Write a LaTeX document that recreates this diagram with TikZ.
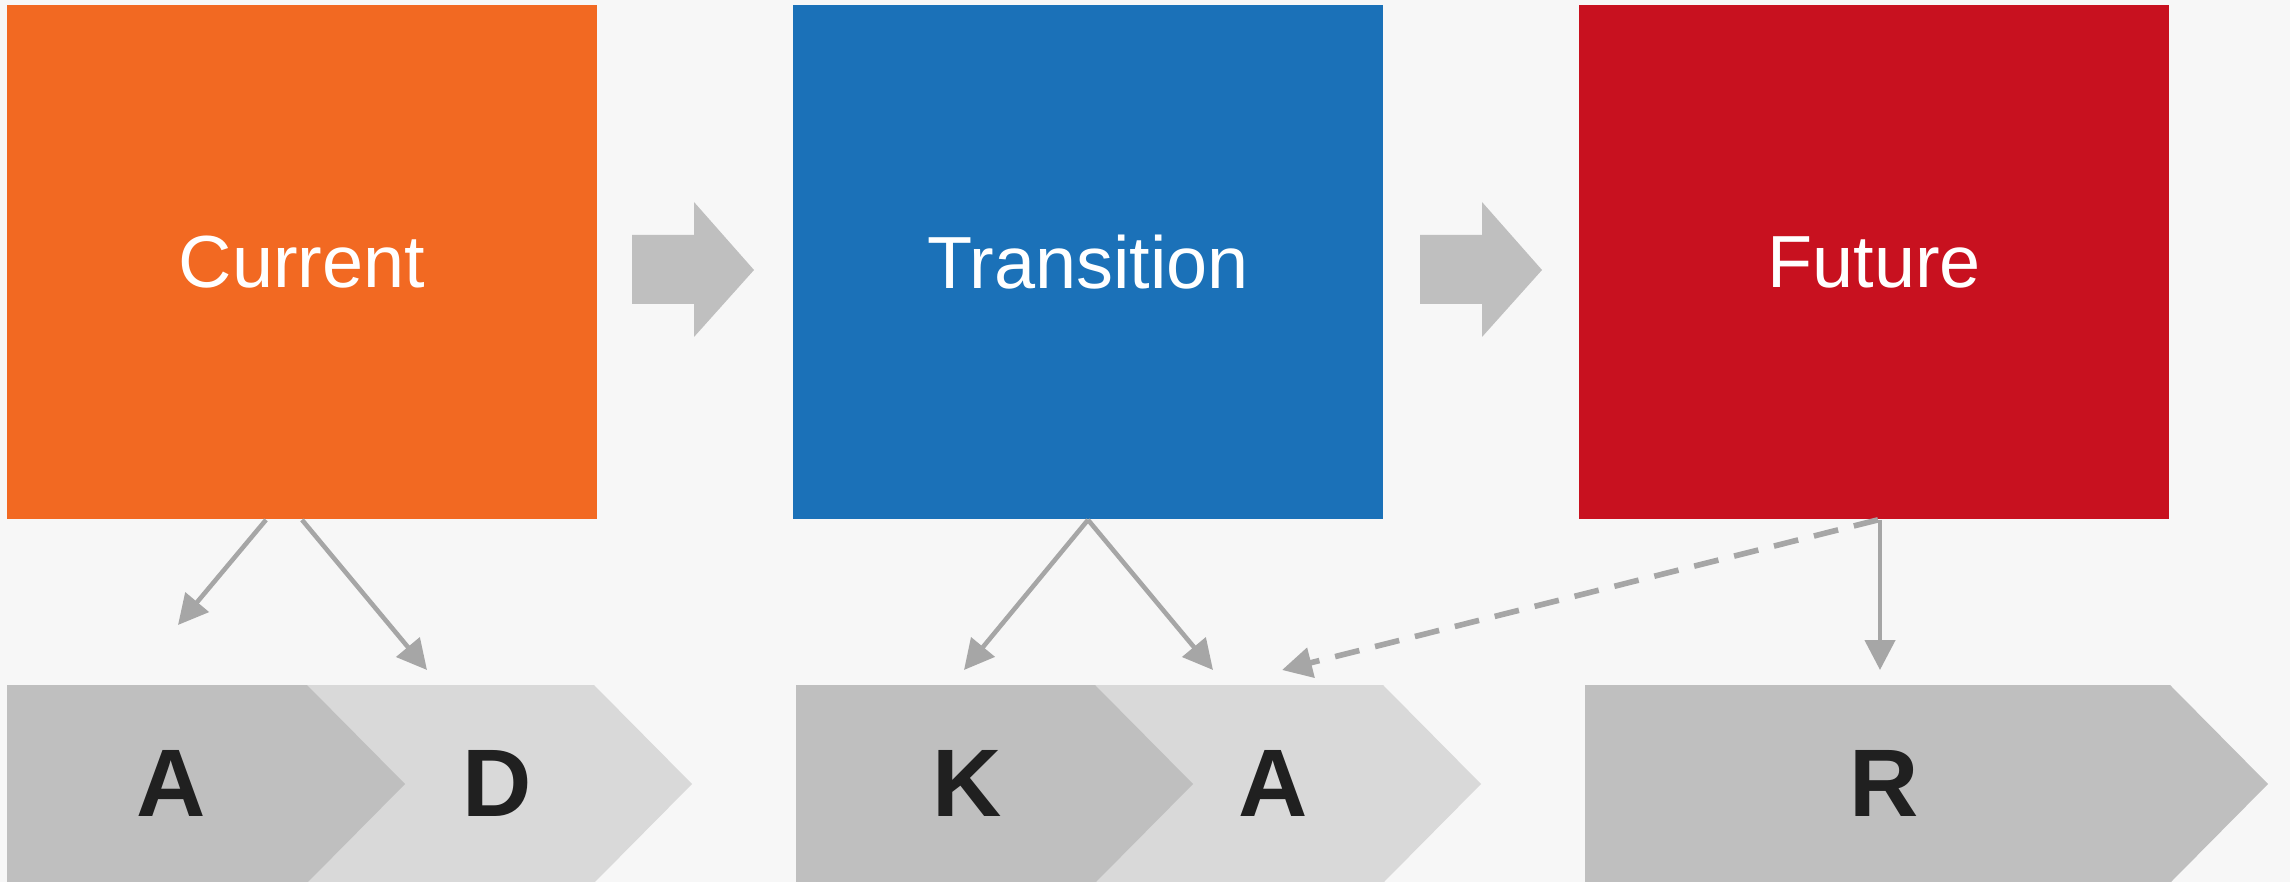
\documentclass[tikz,border=0pt]{standalone}
\usepackage{fontspec}
\setmainfont{Liberation Sans}
\usetikzlibrary{arrows.meta,calc}

\definecolor{bg}{HTML}{F7F7F7}
\definecolor{orangebox}{HTML}{F26922}
\definecolor{bluebox}{HTML}{1B71B8}
\definecolor{redbox}{HTML}{C8111F}
\definecolor{darkchev}{HTML}{BFBFBF}
\definecolor{lightchev}{HTML}{D9D9D9}
\definecolor{linkgray}{HTML}{A6A6A6}
\definecolor{lettergray}{HTML}{202020}

\tikzset{
  stage/.style={minimum width=5.9cm, minimum height=5.14cm, inner sep=0pt,
    text=white, font=\fontsize{21}{25}\selectfont},
  letter/.style={inner sep=0pt, text=lettergray,
    font=\bfseries\fontsize{27.3}{32}\selectfont},
  link/.style={draw=linkgray, line width=1.3pt,
    -{Triangle[length=8.5pt,width=8.5pt]}},
}

\begin{document}
\begin{tikzpicture}[x=0.01cm, y=-0.01cm]
  \fill[bg] (0,0) rectangle (2290,882);
  \useasboundingbox (0,0) rectangle (2290,882);

  % the three stages
  \node[stage, fill=orangebox] (cur) at (302,262) {Current};
  \node[stage, fill=bluebox] (trans) at (1088,262) {Transition};
  \node[stage, fill=redbox] (fut) at (1874,262) {Future};

  % fat arrows between the stages
  \foreach \x in {632,1420}
    \fill[darkchev] (\x,235) -- ++(62,0) -- ++(0,-33) -- ++(60,68)
      -- ++(-60,67) -- ++(0,-33) -- ++(-62,0) -- cycle;

  % chevrons, light ones first so the dark tips lie on top
  \fill[lightchev] (209,685) -- (594,685) -- (692,784) -- (594,883) -- (209,883) -- (307,784) -- cycle;
  \fill[darkchev] (7,685) -- (307,685) -- (405,784) -- (307,883) -- (7,883) -- cycle;
  \fill[lightchev] (997,685) -- (1383,685) -- (1481,784) -- (1383,883) -- (997,883) -- (1095,784) -- cycle;
  \fill[darkchev] (796,685) -- (1095,685) -- (1193,784) -- (1095,883) -- (796,883) -- cycle;
  \fill[darkchev] (1585,685) -- (2170,685) -- (2268,784) -- (2170,883) -- (1585,883) -- cycle;

  \node[letter] (a1) at (171,783) {A};
  \node[letter] (d) at (497,783) {D};
  \node[letter] (k) at (967,783) {K};
  \node[letter] (a2) at (1273,783) {A};
  \node[letter] (r) at (1884,783) {R};

  % arrow ends above the chevrons
  \coordinate (toA1) at (178,625);
  \coordinate (toD) at (427,670);
  \coordinate (toK) at (964,670);
  \coordinate (toA2) at (1213,670);
  \coordinate (backA2) at (1282,670);
  \coordinate (toR) at (1880,670);

  \draw[link] ($(cur.south)+(-36,0)$) -- (toA1);
  \draw[link] (cur.south) -- (toD);
  \draw[link] (trans.south) -- (toK);
  \draw[link] (trans.south) -- (toA2);
  \draw[link] ($(fut.south)+(6,0)$) -- (toR);
  \draw[link, line width=1.6pt, dash pattern=on 7.1pt off 4.6pt]
    ($(fut.south)+(4,0)$) -- (backA2);
\end{tikzpicture}
\end{document}
